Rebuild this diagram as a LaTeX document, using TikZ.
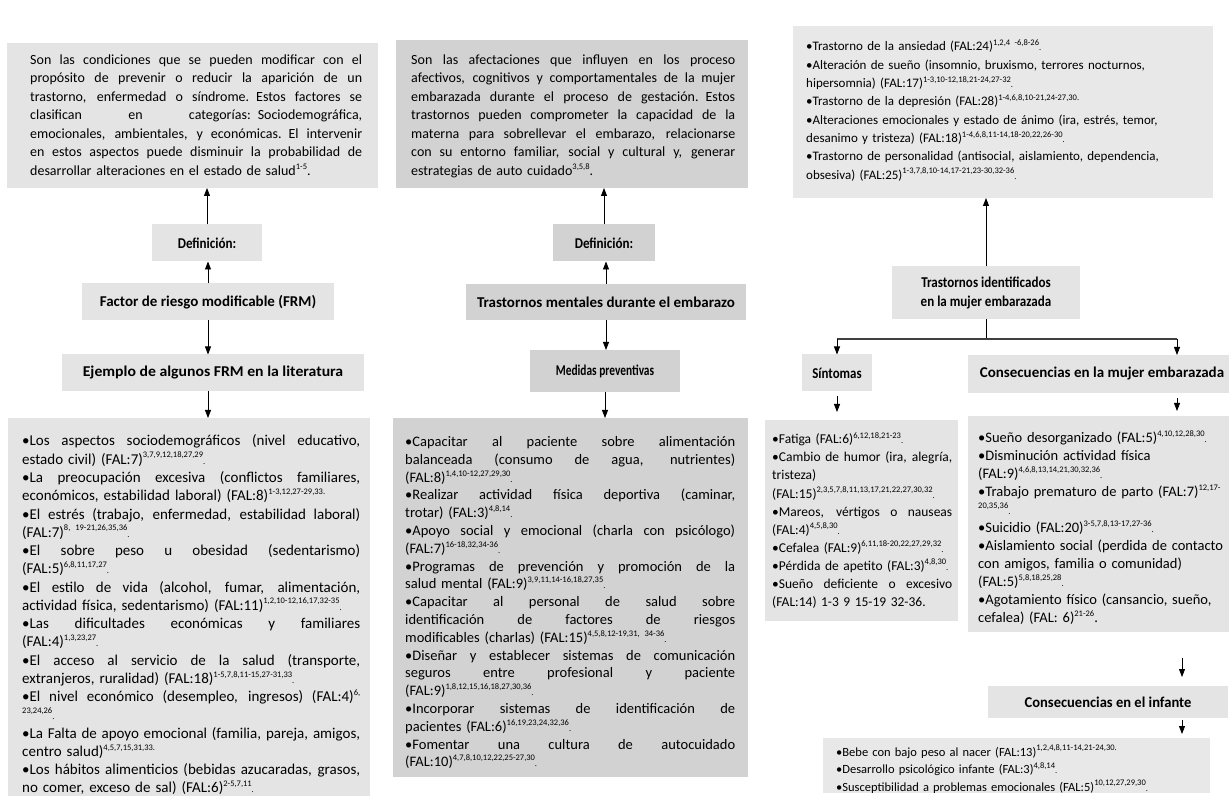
\documentclass[tikz,border=0pt]{standalone}
\usepackage{fontspec}
\usepackage{graphicx}
\setmainfont{Carlito}
\usetikzlibrary{arrows.meta}
\definecolor{ga}{HTML}{E4E4E4}
\definecolor{gb}{HTML}{D2D2D2}
\definecolor{gc}{HTML}{E8E8E8}
\newlength\mytw
\newcommand\supr[1]{\raisebox{0.42em}{\fontsize{8.5}{9}\selectfont #1}}
\newcommand\dt{{\fontsize{8.5}{9}\selectfont .}}
\newcommand\jln[1]{\par\hbox to\mytw{\spaceskip=0.23em plus 1fil minus 0.08em\relax\vrule height 12pt width 0pt #1}}
\newcommand\rln[1]{\par\hbox{\vrule height 12pt width 0pt #1}}
\newcommand\cx[2]{\scalebox{#1}[1]{#2}}
\begin{document}
\begin{tikzpicture}[x=1pt,y=-1pt,
  box/.style={fill=#1, inner sep=0pt, outer sep=0pt},
  txt/.style 2 args={font=\fontsize{#1}{#2}\selectfont, inner sep=0pt, anchor=north west},
  lbl/.style={font=\fontsize{15}{19}\selectfont\bfseries, align=center, inner sep=0pt},
  arr/.style={-{Triangle[width=6pt,length=8pt]}, line width=0.8pt}]
\useasboundingbox[fill=white] (0,0) rectangle (1229,799);

% ---------- top definition boxes ----------
\node[box=ga, anchor=north west, minimum width=371, minimum height=145] (def1) at (7,43) {};
\setlength\mytw{332pt}
\node[txt={14}{18.5}, text width=332pt] (def1t) at (30,45.5) {%
\jln{Son las condiciones que se pueden modificar con el}
\jln{propósito de prevenir o reducir la aparición de un}
\jln{trastorno, enfermedad o síndrome. Estos factores se}
\jln{clasifican en categorías: Sociodemográfica,}
\jln{emocionales, ambientales, y económicas. El intervenir}
\jln{en estos aspectos puede disminuir la probabilidad de}
\rln{desarrollar alteraciones en el estado de salud\supr{1-5}.}};

\node[box=gb, anchor=north west, minimum width=352, minimum height=148] (def2) at (396,40) {};
\setlength\mytw{324pt}
\node[txt={14}{18.5}, text width=324pt] (def2t) at (411,45.5) {%
\jln{Son las afectaciones que influyen en los proceso}
\jln{afectivos, cognitivos y comportamentales de la mujer}
\jln{embarazada durante el proceso de gestación. Estos}
\jln{trastornos pueden comprometer la capacidad de la}
\jln{materna para sobrellevar el embarazo, relacionarse}
\jln{con su entorno familiar, social y cultural y, generar}
\rln{estrategias de auto cuidado\supr{3,5,8}.}};

\node[box=gc, anchor=north west, minimum width=420, minimum height=172] (def3) at (793,26) {};
\node[txt={13}{18.3}, text width=396pt] (def3t) at (806,32.5) {%
\rln{•Trastorno de la ansiedad (FAL:24)\supr{1,2,4 -6,8-26}\dt}
\rln{•Alteración de sueño (insomnio, bruxismo, terrores nocturnos,}
\rln{hipersomnia) (FAL:17)\supr{1-3,10-12,18,21-24,27-32}\dt}
\rln{•Trastorno de la depresión (FAL:28)\supr{1-4,6,8,10-21,24-27,30.}}
\rln{•Alteraciones emocionales y estado de ánimo (ira, estrés, temor,}
\rln{desanimo y tristeza) (FAL:18)\supr{1-4,6,8,11-14,18-20,22,26-30}\dt}
\rln{•Trastorno de personalidad (antisocial, aislamiento, dependencia,}
\rln{obsesiva) (FAL:25)\supr{1-3,7,8,10-14,17-21,23-30,32-36}\dt}};

% ---------- label boxes ----------
\node[box=ga, lbl, minimum width=110, minimum height=37] (dl1) at (207,243) {\cx{0.87}{Definición:}};
\node[box=ga, lbl, minimum width=252, minimum height=37] (frm) at (208,302) {\cx{1.0}{Factor de riesgo modificable (FRM)}};
\node[box=ga, lbl, minimum width=302, minimum height=37] (ej) at (213,373) {\cx{1.05}{Ejemplo de algunos FRM en la literatura}};

\node[box=gb, lbl, minimum width=102, minimum height=37] (dl2) at (604,243) {\cx{0.87}{Definición:}};
\node[box=gb, lbl, minimum width=280, minimum height=36] (tm) at (606,302) {\cx{1.0}{Trastornos mentales durante el embarazo}};
\node[box=gb, lbl, minimum width=150, minimum height=42] (med) at (605,371) {\cx{0.76}{Medidas preventivas}};

\node[box=ga, lbl, minimum width=188, minimum height=53] (ti) at (986,293) {\cx{0.87}{Trastornos identificados}\\\cx{0.87}{en la mujer embarazada}};
\node[box=ga, lbl, minimum width=70, minimum height=37] (sin) at (837,373) {\cx{0.86}{Síntomas}};
\node[box=ga, lbl, anchor=north west, minimum width=268, minimum height=38] (con) at (968,355) {\cx{1.0}{Consecuencias en la mujer embarazada}};
\node[box=ga, lbl, anchor=north west, minimum width=240, minimum height=32] (inf) at (988,686) {\cx{0.97}{Consecuencias en el infante}};

% ---------- lists ----------
\node[box=ga, anchor=north west, minimum width=362, minimum height=378] (list1) at (8,418) {};
\setlength\mytw{338pt}
\node[txt={15}{18.26}, text width=338pt] (list1t) at (22,427.5) {%
\jln{•Los aspectos sociodemográficos (nivel educativo,}
\rln{estado civil) (FAL:7)\supr{3,7,9,12,18,27,29}\dt}
\jln{•La preocupación excesiva (conflictos familiares,}
\rln{económicos, estabilidad laboral) (FAL:8)\supr{1-3,12,27-29,33.}}
\jln{•El estrés (trabajo, enfermedad, estabilidad laboral)}
\rln{(FAL:7)\supr{8, 19-21,26,35,36}\dt}
\jln{•El sobre peso u obesidad (sedentarismo)}
\rln{(FAL:5)\supr{6,8,11,17,27}\dt}
\jln{•El estilo de vida (alcohol, fumar, alimentación,}
\rln{actividad física, sedentarismo) (FAL:11)\supr{1,2,10-12,16,17,32-35}\dt}
\jln{•Las dificultades económicas y familiares}
\rln{(FAL:4)\supr{1,3,23,27}\dt}
\jln{•El acceso al servicio de la salud (transporte,}
\rln{extranjeros, ruralidad) (FAL:18)\supr{1-5,7,8,11-15,27-31,33}\dt}
\jln{•El nivel económico (desempleo, ingresos) (FAL:4)\supr{6,}}
\rln{\supr{23,24,26}\dt}
\jln{•La Falta de apoyo emocional (familia, pareja, amigos,}
\rln{centro salud)\supr{4,5,7,15,31,33.}}
\jln{•Los hábitos alimenticios (bebidas azucaradas, grasos,}
\rln{no comer, exceso de sal) (FAL:6)\supr{2-5,7,11}\dt}};

\node[box=gb, anchor=north west, minimum width=355, minimum height=359] (list2) at (393,418) {};
\setlength\mytw{330pt}
\node[txt={14.5}{17.8}, text width=330pt] (list2t) at (405,428.5) {%
\jln{•Capacitar al paciente sobre alimentación}
\jln{balanceada (consumo de agua, nutrientes)}
\rln{(FAL:8)\supr{1,4,10-12,27,29,30}\dt}
\jln{•Realizar actividad física deportiva (caminar,}
\rln{trotar) (FAL:3)\supr{4,8,14}\dt}
\jln{•Apoyo social y emocional (charla con psicólogo)}
\rln{(FAL:7)\supr{16-18,32,34-36}\dt}
\jln{•Programas de prevención y promoción de la}
\rln{salud mental (FAL:9)\supr{3,9,11,14-16,18,27,35}\dt}
\jln{•Capacitar al personal de salud sobre}
\jln{identificación de factores de riesgos}
\rln{modificables (charlas) (FAL:15)\supr{4,5,8,12-19,31, 34-36}\dt}
\jln{•Diseñar y establecer sistemas de comunicación}
\jln{seguros entre profesional y paciente}
\rln{(FAL:9)\supr{1,8,12,15,16,18,27,30,36}\dt}
\jln{•Incorporar sistemas de identificación de}
\rln{pacientes (FAL:6)\supr{16,19,23,24,32,36}\dt}
\jln{•Fomentar una cultura de autocuidado}
\rln{(FAL:10)\supr{4,7,8,10,12,22,25-27,30}\dt}};

\node[box=ga, anchor=north west, minimum width=193, minimum height=201] (list3) at (765,420) {};
\setlength\mytw{180pt}
\node[txt={13.5}{18.1}, text width=180pt] (list3t) at (772,425.5) {%
\rln{•Fatiga (FAL:6)\supr{6,12,18,21-23}\dt}
\jln{•Cambio de humor (ira, alegría,}
\rln{tristeza)}
\rln{(FAL:15)\supr{2,3,5,7,8,11,13,17,21,22,27,30,32}\dt}
\jln{•Mareos, vértigos o nauseas}
\rln{(FAL:4)\supr{4,5,8,30}\dt}
\rln{•Cefalea (FAL:9)\supr{6,11,18-20,22,27,29,32}\dt}
\rln{•Pérdida de apetito (FAL:3)\supr{4,8,30}\dt}
\jln{•Sueño deficiente o excesivo}
\rln{(FAL:14) 1-3 9 15-19 32-36.}};

\node[box=ga, anchor=north west, minimum width=272, minimum height=216] (list4) at (968,416) {};
\node[txt={14.5}{18}, text width=260pt] (list4t) at (978,424.5) {%
\rln{•Sueño desorganizado (FAL:5)\supr{4,10,12,28,30}\dt}
\rln{•Disminución actividad física}
\rln{(FAL:9)\supr{4,6,8,13,14,21,30,32,36}\dt}
\rln{•Trabajo prematuro de parto (FAL:7)\supr{12,17-}}
\rln{\supr{20,35,36}\dt}
\rln{•Suicidio (FAL:20)\supr{3-5,7,8,13-17,27-36}\dt}
\rln{•Aislamiento social (perdida de contacto}
\rln{con amigos, familia o comunidad)}
\rln{(FAL:5)\supr{5,8,18,25,28}\dt}
\rln{•Agotamiento físico (cansancio, sueño,}
\rln{cefalea) (FAL: 6)\supr{21-26}.}};

\node[box=gc, anchor=north west, minimum width=387, minimum height=55] (list5) at (823,738) {};
\node[txt={12.5}{17.5}, text width=360pt] (list5t) at (836,738.5) {%
\rln{•Bebe con bajo peso al nacer (FAL:13)\supr{1,2,4,8,11-14,21-24,30.}}
\rln{•Desarrollo psicológico infante (FAL:3)\supr{4,8,14}\dt}
\rln{•Susceptibilidad a problemas emocionales (FAL:5)\supr{10,12,27,29,30}\dt}};

% ---------- connectors ----------
\draw[arr] (dl1.north) -- (dl1.north |- def1.south);
\draw[arr] (frm.north) -- (frm.north |- dl1.south);
\draw[arr] (frm.south) -- (frm.south |- ej.north);
\draw[arr] (frm.south |- ej.south) -- (frm.south |- list1.north);

\draw[arr] (dl2.north) -- (dl2.north |- def2.south);
\draw[arr] (tm.north) -- (tm.north |- dl2.south);
\draw[arr] (tm.south) -- (tm.south |- med.north);
\draw[arr] (med.south) -- (med.south |- list2.north);

\draw[arr] (ti.north) -- (ti.north |- def3.south);
\coordinate (br) at (986,339);
\coordinate (brR) at (1177,339);
\coordinate (ax) at (1182,0);
\draw[line width=0.8pt] (ti.south) -- (br);
\draw[line width=2pt, black!75] (sin.north |- br) -- (brR);
\draw[arr] (sin.north |- br) -- (sin.north);
\draw[arr] (brR) -- (brR |- con.north);
\draw[arr, shorten <=5pt, shorten >=8pt] (sin.south) -- (sin.south |- list3.north);
\draw[arr, shorten <=5pt, shorten >=5pt] (brR |- con.south) -- (brR |- list4.north);
\draw[arr, shorten <=26pt, shorten >=9pt] (ax |- list4.south) -- (ax |- inf.north);
\draw[arr, shorten <=2pt, shorten >=4pt] (ax |- inf.south) -- (ax |- list5.north);
\end{tikzpicture}
\end{document}
